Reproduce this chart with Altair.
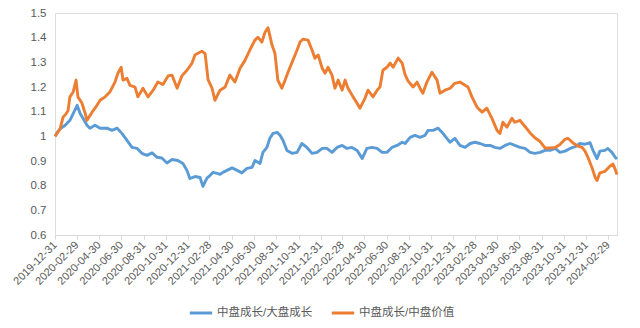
import altair as alt
import pandas as pd

START = "2019-12-31"

# 中盘成长/大盘成长 (blue): day offsets from 2019-12-31 and values
blue_days = [0, 8, 14, 28, 41, 52, 61, 69, 77, 88, 96, 110, 124, 143, 157, 171, 184, 198, 212, 226,
             239, 253, 267, 281, 294, 308, 322, 338, 352, 363, 371, 385, 399, 407, 418, 426, 435, 446,
             454, 462, 473, 487, 501, 514, 528, 542, 550, 564, 572, 583, 591, 600, 611, 619, 627, 638,
             652, 666, 679, 693, 707, 721, 735, 748, 762, 776, 790, 803, 817, 831, 845, 858, 872, 886,
             900, 913, 927, 941, 955, 963, 977, 990, 1004, 1018, 1026, 1040, 1054, 1065, 1078, 1087,
             1100, 1114, 1128, 1142, 1155, 1169, 1183, 1197, 1210, 1224, 1238, 1252, 1265, 1279, 1293,
             1307, 1320, 1334, 1348, 1362, 1376, 1389, 1403, 1417, 1431, 1444, 1458, 1472, 1480, 1491,
             1499, 1513, 1521, 1532, 1541, 1546]
blue_vals = [1.000, 1.020, 1.030, 1.045, 1.065, 1.098, 1.126, 1.093, 1.073, 1.045, 1.033, 1.045, 1.033,
             1.033, 1.024, 1.033, 1.012, 0.984, 0.955, 0.951, 0.931, 0.923, 0.933, 0.915, 0.912, 0.892,
             0.906, 0.902, 0.890, 0.862, 0.829, 0.837, 0.833, 0.797, 0.831, 0.841, 0.854, 0.850, 0.846,
             0.854, 0.862, 0.872, 0.862, 0.852, 0.870, 0.874, 0.902, 0.890, 0.935, 0.955, 0.992, 1.012,
             1.016, 1.004, 0.984, 0.943, 0.931, 0.935, 0.971, 0.955, 0.931, 0.935, 0.951, 0.951, 0.935,
             0.955, 0.963, 0.951, 0.955, 0.943, 0.910, 0.951, 0.955, 0.951, 0.935, 0.935, 0.955, 0.963,
             0.976, 0.971, 0.996, 1.004, 0.996, 1.004, 1.024, 1.024, 1.033, 1.016, 0.992, 0.976, 0.992,
             0.963, 0.955, 0.971, 0.976, 0.971, 0.963, 0.963, 0.955, 0.951, 0.963, 0.971, 0.963, 0.955,
             0.951, 0.935, 0.931, 0.935, 0.943, 0.943, 0.951, 0.935, 0.940, 0.951, 0.958, 0.971, 0.968,
             0.974, 0.943, 0.910, 0.940, 0.943, 0.951, 0.935, 0.915, 0.908]

# 中盘成长/中盘价值 (orange)
orange_days = [0, 14, 22, 30, 36, 41, 50, 58, 63, 74, 83, 88, 102, 113, 124, 138, 151, 165, 173, 182,
               187, 198, 206, 220, 228, 242, 256, 270, 283, 297, 311, 322, 336, 349, 363, 377, 385, 393,
               404, 413, 421, 432, 440, 448, 454, 468, 481, 495, 509, 523, 536, 550, 558, 569, 578, 586,
               597, 605, 613, 624, 633, 641, 652, 666, 674, 682, 696, 707, 715, 724, 735, 743, 751, 762,
               770, 779, 790, 798, 806, 820, 831, 839, 853, 861, 875, 886, 894, 902, 913, 922, 930, 944,
               955, 963, 971, 985, 996, 1004, 1012, 1023, 1037, 1051, 1059, 1073, 1087, 1100, 1114, 1128,
               1136, 1147, 1161, 1175, 1188, 1202, 1216, 1224, 1232, 1243, 1257, 1265, 1279, 1293, 1307,
               1320, 1334, 1348, 1362, 1376, 1389, 1403, 1411, 1425, 1439, 1450, 1458, 1466, 1477, 1486,
               1491, 1499, 1513, 1527, 1535, 1541, 1546]
orange_vals = [1.000, 1.030, 1.077, 1.090, 1.105, 1.160, 1.180, 1.228, 1.160, 1.135, 1.093, 1.065, 1.098,
               1.120, 1.146, 1.160, 1.180, 1.220, 1.256, 1.280, 1.228, 1.235, 1.207, 1.200, 1.160, 1.195,
               1.160, 1.187, 1.220, 1.210, 1.245, 1.248, 1.195, 1.245, 1.268, 1.297, 1.330, 1.337, 1.345,
               1.335, 1.230, 1.195, 1.146, 1.170, 1.187, 1.200, 1.248, 1.220, 1.276, 1.309, 1.350, 1.390,
               1.402, 1.382, 1.423, 1.440, 1.370, 1.337, 1.228, 1.195, 1.228, 1.260, 1.300, 1.350, 1.382,
               1.394, 1.390, 1.350, 1.317, 1.330, 1.276, 1.256, 1.280, 1.248, 1.195, 1.228, 1.187, 1.228,
               1.195, 1.160, 1.134, 1.114, 1.155, 1.187, 1.160, 1.187, 1.200, 1.268, 1.280, 1.297, 1.280,
               1.317, 1.297, 1.250, 1.225, 1.200, 1.220, 1.195, 1.175, 1.220, 1.260, 1.228, 1.175, 1.187,
               1.195, 1.215, 1.220, 1.207, 1.200, 1.160, 1.118, 1.098, 1.114, 1.073, 1.024, 1.012, 1.057,
               1.037, 1.073, 1.057, 1.065, 1.040, 1.014, 0.994, 0.980, 0.953, 0.953, 0.955, 0.967, 0.988,
               0.992, 0.973, 0.960, 0.955, 0.940, 0.915, 0.874, 0.833, 0.821, 0.852, 0.858, 0.880, 0.888,
               0.866, 0.845]

series_names = ["中盘成长/大盘成长", "中盘成长/中盘价值"]
series_colors = ["#5B9BD5", "#ED7D31"]

tick_dates = ["2019-12-31", "2020-02-29", "2020-04-30", "2020-06-30", "2020-08-31", "2020-10-31",
              "2020-12-31", "2021-02-28", "2021-04-30", "2021-06-30", "2021-08-31", "2021-10-31",
              "2021-12-31", "2022-02-28", "2022-04-30", "2022-06-30", "2022-08-31", "2022-10-31",
              "2022-12-31", "2023-02-28", "2023-04-30", "2023-06-30", "2023-08-31", "2023-10-31",
              "2023-12-31", "2024-02-29"]
y_ticks = [0.6, 0.7, 0.8, 0.9, 1.0, 1.1, 1.2, 1.3, 1.4, 1.5]


def to_dates(days):
    d = pd.Timestamp(START) + pd.to_timedelta(days, unit="D")
    return [x.strftime("%Y/%m/%d") for x in d]


df = pd.concat([
    pd.DataFrame({"date": to_dates(blue_days), "value": blue_vals, "series": series_names[0], "order": range(len(blue_vals))}),
    pd.DataFrame({"date": to_dates(orange_days), "value": orange_vals, "series": series_names[1], "order": range(len(orange_vals))}),
], ignore_index=True)


def dt(s):
    y, m, d = (int(p) for p in s.split("-"))
    return alt.DateTime(year=y, month=m, date=d)


FONT = "Liberation Sans, Noto Sans CJK SC"

chart = alt.Chart(df).mark_line(strokeWidth=2.9, strokeJoin="round").encode(
    x=alt.X("date:T", title=None,
            scale=alt.Scale(nice=False),
            axis=alt.Axis(values=[dt(s) for s in tick_dates], format="%Y-%m-%d", labelAngle=-45,
                          labelAlign="right", labelBaseline="middle",
                          grid=False, domainColor="#D9D9D9", tickColor="#D9D9D9", tickSize=4,
                          labelColor="#595959", labelFontSize=11, labelFont=FONT, labelPadding=4,
                          labelOverlap=False, labelFlush=False)),
    y=alt.Y("value:Q", title=None,
            scale=alt.Scale(domain=[0.6, 1.5], nice=False, zero=False),
            axis=alt.Axis(values=y_ticks, format="~g", grid=False, domain=False, ticks=False,
                          labelColor="#595959", labelFontSize=11.5, labelFont=FONT, labelPadding=9)),
    color=alt.Color("series:N",
                    scale=alt.Scale(domain=series_names, range=series_colors),
                    legend=alt.Legend(title=None, orient="none", direction="horizontal",
                                      legendX=133, legendY=287, symbolType="stroke",
                                      symbolSize=500, symbolStrokeWidth=3, labelFontSize=11.5,
                                      labelFont=FONT, labelColor="#595959", columnPadding=12,
                                      labelOffset=3)),
    order="order:Q",
).properties(
    width=562, height=222,
    autosize=alt.AutoSizeParams(type="none"),
    padding={"left": 55, "top": 13, "right": 23, "bottom": 93},
).configure_view(stroke=None).configure(background="white")

chart.save("out.html", embed_options={"renderer": "svg", "actions": False})
